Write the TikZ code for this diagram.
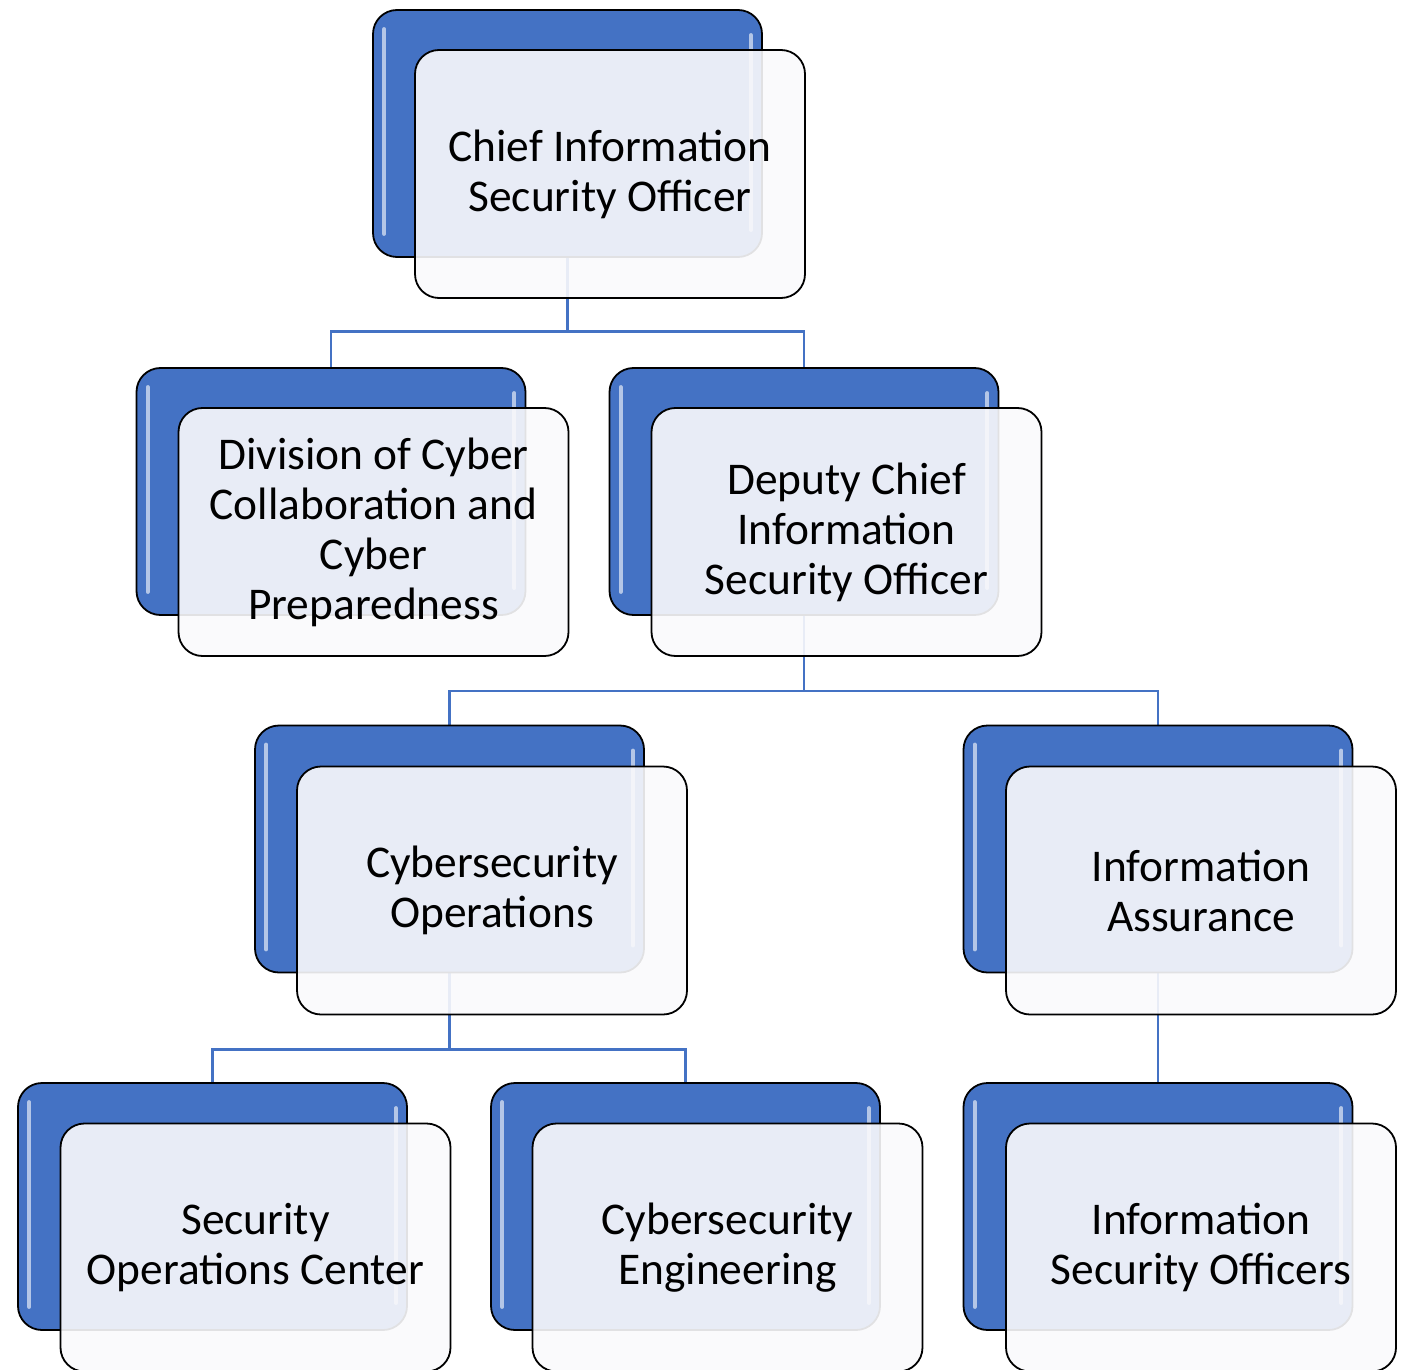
\documentclass[tikz,border=0pt]{standalone}
\usepackage{fontspec}
\setmainfont{Carlito}
\usetikzlibrary{backgrounds}

\definecolor{orgblue}{HTML}{4472C4}
\definecolor{cardfill}{HTML}{FAFAFC}

\tikzset{
  backbox/.style={draw=black, line width=0.9pt, fill=orgblue, rounded corners=12pt,
    minimum width=194.5pt, minimum height=123.5pt},
  cardbox/.style={draw=black, line width=0.9pt, fill=cardfill, fill opacity=0.9,
    text opacity=1, rounded corners=12pt, minimum width=195pt, minimum height=124pt,
    align=center, font=\fontsize{22.7}{25}\selectfont},
  link/.style={draw=orgblue, line width=1.4pt},
  gloss/.style={draw=white, draw opacity=0.6, line width=2pt, line cap=round}
}

\begin{document}
\begin{tikzpicture}[x=0.5pt, y=-0.5pt]
    \useasboundingbox (0,0) rectangle (1401,1369);

    % blue back cards
    \begin{scope}[every node/.style={backbox}]
      \node (cisoback) at (567.5,133.5) {};
      \node (divback)  at (331,491.5)   {};
      \node (depback)  at (804,491.5)   {};
      \node (opsback)  at (449.5,849)   {};
      \node (iaback)   at (1158,849)    {};
      \node (socback)  at (212.5,1206.5) {};
      \node (engback)  at (685.5,1206.5) {};
      \node (isoback)  at (1158,1206.5) {};
    \end{scope}

    % glossy edges
    \foreach \b in {cisoback,divback,depback,opsback,iaback,socback,engback,isoback} {
      \draw[gloss] ([xshift=6pt,yshift=-10pt]\b.north west) -- ([xshift=6pt,yshift=12pt]\b.south west);
      \draw[gloss] ([xshift=-6pt,yshift=-13pt]\b.north east) -- ([xshift=-6pt,yshift=14pt]\b.south east);
    }

    % white front cards
    \begin{scope}[every node/.style={cardbox}]
      \node (ciso) at (610,174)  {Chief Information\\Security Officer};
      \node (div)  at (373.5,532) {Division of Cyber\\Collaboration and\\Cyber\\Preparedness};
      \node (dep)  at (846.5,532) {Deputy Chief\\Information\\Security Officer};
      \node (ops)  at (492,890.5)    {Cybersecurity\\Operations};
      \node (ia)   at (1201,890.5)   {Information\\Assurance};
      \node (soc)  at (255.5,1247.5) {Security\\Operations Center};
      \node (eng)  at (727.5,1247.5) {Cybersecurity\\Engineering};
      \node (iso)  at (1201,1247.5)  {Information\\Security Officers};
    \end{scope}

    % reporting lines
    \begin{scope}[on background layer]
      \draw[link] (cisoback.south) -- ++(0,74) -| (divback.north);
      \draw[link] (cisoback.south) -- ++(0,74) -| (depback.north);
      \draw[link] (depback.south) -- ++(0,75) -| (opsback.north);
      \draw[link] (depback.south) -- ++(0,75) -| (iaback.north);
      \draw[link] (opsback.south) -- ++(0,76) -| (socback.north);
      \draw[link] (opsback.south) -- ++(0,76) -| (engback.north);
      \draw[link] (iaback.south) -- (isoback.north);
    \end{scope}
\end{tikzpicture}
\end{document}
